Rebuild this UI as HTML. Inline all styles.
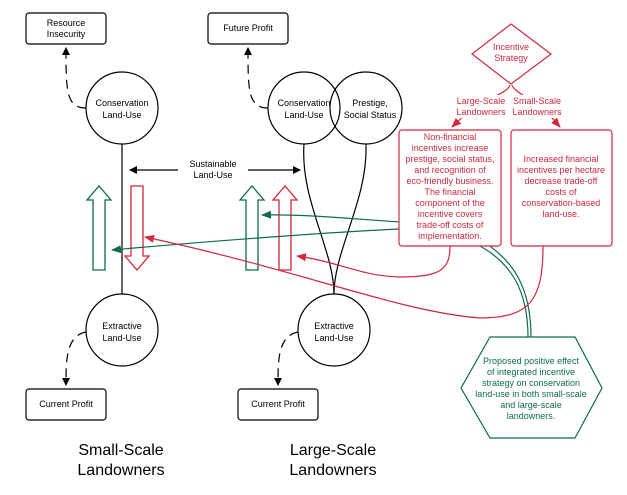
<!DOCTYPE html>
<html><head><meta charset="utf-8"><style>
html,body{margin:0;padding:0;background:#fff}
svg text{font-family:"Liberation Sans",sans-serif}
</style></head><body>
<svg width="627" height="490" viewBox="0 0 627 490" xmlns="http://www.w3.org/2000/svg">
<defs>
<marker id="ab" markerWidth="8" markerHeight="8" refX="7" refY="4" orient="auto" markerUnits="userSpaceOnUse"><path d="M0,0 L8,4 L0,8 z" fill="#000"/></marker>
<marker id="ar" markerWidth="10" markerHeight="8" refX="9" refY="4" orient="auto" markerUnits="userSpaceOnUse"><path d="M0,0 L10,4 L0,8 z" fill="#d0283c"/></marker>
<marker id="ag" markerWidth="10" markerHeight="8" refX="9" refY="4" orient="auto" markerUnits="userSpaceOnUse"><path d="M0,0 L10,4 L0,8 z" fill="#0e6b4e"/></marker>
</defs>
<g fill="none" stroke="#000" stroke-width="1.2">
<rect x="26" y="13" width="80" height="31" rx="3"/>
<rect x="208" y="13" width="80" height="31" rx="3"/>
<rect x="26" y="389" width="80" height="31" rx="3"/>
<rect x="238" y="389" width="80" height="31" rx="3"/>
<circle cx="122" cy="108" r="36"/>
<circle cx="304" cy="108" r="36"/>
<circle cx="366" cy="108" r="36"/>
<circle cx="122" cy="330" r="36"/>
<circle cx="334" cy="330" r="36"/>
<line x1="122" y1="144" x2="122" y2="294"/>
<path d="M304,144 C300,200 334,250 334,294"/>
<path d="M366,144 C368,200 334,250 334,294"/>
<path d="M86,108 C66,108 66,90 66,48" stroke-dasharray="9,6" marker-end="url(#ab)"/>
<path d="M268,108 C248,108 248,90 248,48" stroke-dasharray="9,6" marker-end="url(#ab)"/>
<path d="M86,332 C66,336 66,360 66,385" stroke-dasharray="9,6" marker-end="url(#ab)"/>
<path d="M298,332 C278,336 278,360 278,385" stroke-dasharray="9,6" marker-end="url(#ab)"/>
<line x1="178" y1="170" x2="130" y2="170" marker-end="url(#ab)"/>
<line x1="248" y1="170" x2="300" y2="170" marker-end="url(#ab)"/>
</g>
<g font-size="9" text-anchor="middle" fill="#000">
<text x="66" y="26">Resource</text><text x="66" y="37">Insecurity</text>
<text x="248" y="31">Future Profit</text>
<text x="66" y="407">Current Profit</text>
<text x="278" y="407">Current Profit</text>
<text x="122" y="106">Conservation</text><text x="122" y="118">Land-Use</text>
<text x="304" y="106">Conservation</text><text x="304" y="118">Land-Use</text>
<text x="370" y="106">Prestige,</text><text x="370" y="118">Social Status</text>
<text x="122" y="329">Extractive</text><text x="122" y="341">Land-Use</text>
<text x="334" y="329">Extractive</text><text x="334" y="341">Land-Use</text>
<text x="213" y="167">Sustainable</text><text x="213" y="178">Land-Use</text>
</g>
<g font-size="16" text-anchor="middle" fill="#000">
<text x="121" y="455">Small-Scale</text><text x="121" y="475">Landowners</text>
<text x="333" y="455">Large-Scale</text><text x="333" y="475">Landowners</text>
</g>
<!-- block arrows -->
<g fill="#fff" stroke-width="1.3">
<path d="M93,270 L93,200 L87,200 L99,186 L111,200 L105,200 L105,270 Z" stroke="#0e6b4e"/>
<path d="M246,270 L246,200 L240,200 L252,186 L264,200 L258,200 L258,270 Z" stroke="#0e6b4e"/>
<path d="M279,270 L279,200 L273,200 L285,186 L297,200 L291,200 L291,270 Z" stroke="#d0283c"/>
<path d="M131,186 L143,186 L143,256 L149,256 L137,270 L125,256 L131,256 Z" stroke="#d0283c"/>
</g>
<!-- green connectors (behind boxes) -->
<g fill="none" stroke="#0e6b4e" stroke-width="1.2">
<path d="M531,337 C531,290 515,260 480,240 C450,226 420,222 400,222 C340,218 300,214 262,215" marker-end="url(#ag)"/>
<path d="M528,337 C528,292 512,262 476,244 C450,232 420,229 400,229 C330,232 200,242 112,250" marker-end="url(#ag)"/>
</g>
<!-- red strategy -->
<g fill="#fff" stroke="#d0283c" stroke-width="1.2">
<path d="M511,24 L551,54 L511,84 L472,54 Z"/>
<rect x="399" y="130" width="102" height="116" rx="3"/>
<rect x="511" y="130" width="101" height="116" rx="3"/>
</g>
<g fill="none" stroke="#d0283c" stroke-width="1.2">
<path d="M510,85 C508,92 495,95 470,110 L452,127" marker-end="url(#ar)"/>
<path d="M512,85 C514,92 530,98 545,110 L560,127" marker-end="url(#ar)"/>
<path d="M450,246 C450,270 440,277 400,277 C360,276 340,262 297,256" marker-end="url(#ar)"/>
<path d="M543,246 C543,300 530,318 480,318 C400,312 300,270 145,237" marker-end="url(#ar)"/>
</g>
<g fill="#fff">
<rect x="455" y="95" width="52" height="23"/>
<rect x="510" y="95" width="54" height="23"/>
</g>
<g font-size="9" text-anchor="middle" fill="#d0283c">
<text x="511" y="50">Incentive</text><text x="511" y="61">Strategy</text>
<text x="481" y="104">Large-Scale</text><text x="481" y="115">Landowners</text>
<text x="537" y="104">Small-Scale</text><text x="537" y="115">Landowners</text>
<text x="450" y="140">Non-financial</text>
<text x="450" y="151">incentives increase</text>
<text x="450" y="162">prestige, social status,</text>
<text x="450" y="173">and recognition of</text>
<text x="450" y="184">eco-friendly business.</text>
<text x="450" y="195">The financial</text>
<text x="450" y="206">component of the</text>
<text x="450" y="217">incentive covers</text>
<text x="450" y="228">trade-off costs of</text>
<text x="450" y="239">implementation.</text>
<text x="561" y="162">Increased financial</text>
<text x="561" y="173">incentives per hectare</text>
<text x="561" y="184">decrease trade-off</text>
<text x="561" y="195">costs of</text>
<text x="561" y="206">conservation-based</text>
<text x="561" y="217">land-use.</text>
</g>
<g fill="#fff" stroke="#0e6b4e" stroke-width="1.2">
<path d="M490,337 L575,337 L602,388 L575,438 L490,438 L461,388 Z"/>
</g>
<g font-size="9" text-anchor="middle" fill="#0e6b4e">
<text x="531" y="364">Proposed positive effect</text>
<text x="531" y="375">of integrated incentive</text>
<text x="531" y="386">strategy on conservation</text>
<text x="531" y="397">land-use in both small-scale</text>
<text x="531" y="408">and large-scale</text>
<text x="531" y="419">landowners.</text>
</g>
</svg>
</body></html>
